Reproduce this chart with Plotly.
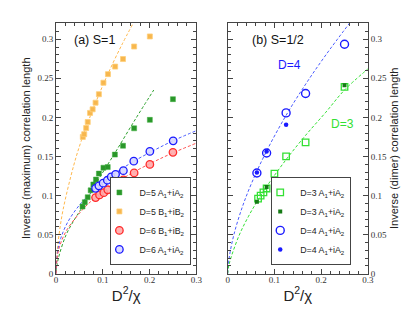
import plotly.graph_objects as go

# ---- panel (a) S=1 : symbols ----
x5a = [0.0566, 0.0614, 0.0677, 0.0740, 0.0797, 0.0853, 0.0916, 0.1013, 0.1105, 0.1258, 0.1432, 0.1670, 0.2006, 0.2500]
y5a = [0.0860, 0.0916, 0.0979, 0.1067, 0.1142, 0.1205, 0.1281, 0.1356, 0.1364, 0.1524, 0.1637, 0.1860, 0.1968, 0.2233]

x5b = [0.0572, 0.0602, 0.0644, 0.0677, 0.0727, 0.0782, 0.0845, 0.0916, 0.1013, 0.1110, 0.1264, 0.1432, 0.1670, 0.2006]
y5b = [0.1750, 0.1785, 0.1864, 0.1940, 0.2057, 0.2103, 0.2188, 0.2296, 0.2443, 0.2553, 0.2649, 0.2746, 0.2906, 0.3035]

x6b = [0.0845, 0.0929, 0.1021, 0.1105, 0.1264, 0.1440, 0.1670, 0.2006, 0.2500]
y6b = [0.0974, 0.1008, 0.1037, 0.1074, 0.1130, 0.1200, 0.1290, 0.1398, 0.1553]

x6a = [0.0845, 0.0916, 0.1006, 0.1096, 0.1180, 0.1273, 0.1440, 0.1662, 0.2006, 0.2505]
y6a = [0.1092, 0.1125, 0.1159, 0.1196, 0.1238, 0.1272, 0.1318, 0.1440, 0.1565, 0.1700]

# ---- panel (a) fitted dashed curves ----
fit5b_x = [0.0, 0.002, 0.0063, 0.015, 0.0377, 0.0539, 0.08, 0.1097, 0.14, 0.1656]
fit5b_y = [0.0, 0.026, 0.050, 0.082, 0.1385, 0.170, 0.212, 0.254, 0.292, 0.321]
fit5a_x = [0.0, 0.005, 0.0216, 0.04, 0.058, 0.09, 0.1264, 0.17, 0.209]
fit5a_y = [0.003, 0.020, 0.050, 0.070, 0.087, 0.120, 0.155, 0.198, 0.235]
fit6a_x = [0.0, 0.003, 0.01, 0.025, 0.0497, 0.0845, 0.125, 0.1662, 0.21, 0.25, 0.3]
fit6a_y = [0.0, 0.0277, 0.0454, 0.0661, 0.0876, 0.109, 0.1279, 0.1438, 0.158, 0.170, 0.183]
fit6b_x = [0.0, 0.003, 0.01, 0.025, 0.0635, 0.0845, 0.125, 0.1662, 0.21, 0.25, 0.3]
fit6b_y = [0.0, 0.0235, 0.0393, 0.058, 0.0863, 0.0974, 0.1151, 0.130, 0.1435, 0.1546, 0.167]

# ---- panel (b) S=1/2 : symbols ----
x3o = [0.0650, 0.0705, 0.0765, 0.0833, 0.1000, 0.1250, 0.1667, 0.2500]
y3o = [0.0960, 0.1000, 0.1040, 0.1090, 0.1280, 0.1500, 0.1680, 0.2390]
x3f = [0.0625, 0.0833, 0.2500]
y3f = [0.0920, 0.1110, 0.2410]
x4o = [0.0625, 0.0833, 0.1250, 0.1667, 0.2500]
y4o = [0.1289, 0.1545, 0.2057, 0.2305, 0.2935]
x4f = [0.0625, 0.0833, 0.1250]
y4f = [0.1295, 0.1565, 0.1905]

fit4_x = [0.0, 0.003, 0.0133, 0.031, 0.052, 0.0833, 0.125, 0.167, 0.21, 0.2614]
fit4_y = [0.0, 0.0197, 0.050, 0.0848, 0.117, 0.157, 0.2026, 0.2426, 0.2798, 0.321]
fit3_x = [0.0, 0.003, 0.0237, 0.0447, 0.0625, 0.0833, 0.125, 0.1667, 0.21, 0.25, 0.3]
fit3_y = [0.0, 0.012, 0.048, 0.0736, 0.092, 0.1115, 0.146, 0.177, 0.2066, 0.235, 0.262]

xticks = [0, 0.1, 0.2, 0.3]
xticktext = ["0", "0.1", "0.2", "0.3"]
yticks = [0, 0.05, 0.1, 0.15, 0.2, 0.25, 0.3]
yticktext = ["0", "0.05", "0.1", "0.15", "0.2", "0.25", "0.3"]

GREEN_D = "#2a962a"
ORANGE = "#f7b74e"
RED = "#ff2a2a"
BLUE = "#1a1aff"
LGREEN = "#33e033"

fig = go.Figure()

def dashed(x, y, color, xa, ya):
    fig.add_trace(go.Scatter(x=x, y=y, mode="lines", xaxis=xa, yaxis=ya,
                             line=dict(color=color, width=1, dash="3px,2px", shape="spline"),
                             showlegend=False, hoverinfo="skip"))

dashed(fit5b_x, fit5b_y, "#ffb84d", "x", "y")
dashed(fit5a_x, fit5a_y, "#2ca02c", "x", "y")
dashed(fit6a_x, fit6a_y, "#4a5cff", "x", "y")
dashed(fit6b_x, fit6b_y, "#ff5050", "x", "y")
dashed(fit4_x, fit4_y, "#4a5cff", "x2", "y2")
dashed(fit3_x, fit3_y, "#33e033", "x2", "y2")

fig.add_trace(go.Scatter(x=x5a, y=y5a, mode="markers", name="D=5 A<sub>1</sub>+iA<sub>2</sub>",
                         marker=dict(symbol="square", size=5, color=GREEN_D, line=dict(width=0.5, color="#3cb03c")),
                         xaxis="x", yaxis="y", legend="legend"))
fig.add_trace(go.Scatter(x=x5b, y=y5b, mode="markers", name="D=5 B<sub>1</sub>+iB<sub>2</sub>",
                         marker=dict(symbol="square", size=5, color=ORANGE, line=dict(width=0.8, color="#ffcf7a")),
                         xaxis="x", yaxis="y", legend="legend"))
fig.add_trace(go.Scatter(x=x6b, y=y6b, mode="markers", name="D=6 B<sub>1</sub>+iB<sub>2</sub>",
                         marker=dict(symbol="circle", size=7.5, color="rgba(255,170,170,0.9)", line=dict(width=1.3, color=RED)),
                         xaxis="x", yaxis="y", legend="legend"))
fig.add_trace(go.Scatter(x=x6a, y=y6a, mode="markers", name="D=6 A<sub>1</sub>+iA<sub>2</sub>",
                         marker=dict(symbol="circle", size=7.5, color="rgba(215,215,255,0.9)", line=dict(width=1.3, color=BLUE)),
                         xaxis="x", yaxis="y", legend="legend"))

fig.add_trace(go.Scatter(x=x3o, y=y3o, mode="markers", name="D=3 A<sub>1</sub>+iA<sub>2</sub>",
                         marker=dict(symbol="square-open", size=6.5, color=LGREEN, line=dict(width=1.3)),
                         xaxis="x2", yaxis="y2", legend="legend2"))
fig.add_trace(go.Scatter(x=x3f, y=y3f, mode="markers", name="D=3 A<sub>1</sub>+iA<sub>2</sub>",
                         marker=dict(symbol="square", size=4, color="#157a15"),
                         xaxis="x2", yaxis="y2", legend="legend2"))
fig.add_trace(go.Scatter(x=x4o, y=y4o, mode="markers", name="D=4 A<sub>1</sub>+iA<sub>2</sub>",
                         marker=dict(symbol="circle-open", size=8, color=BLUE, line=dict(width=1.4)),
                         xaxis="x2", yaxis="y2", legend="legend2"))
fig.add_trace(go.Scatter(x=x4f, y=y4f, mode="markers", name="D=4 A<sub>1</sub>+iA<sub>2</sub>",
                         marker=dict(symbol="circle", size=4.5, color=BLUE),
                         xaxis="x2", yaxis="y2", legend="legend2"))

tickfont = dict(family="Liberation Serif", size=9, color="#333")
axis_common = dict(showgrid=False, zeroline=False, showline=True, linecolor="#444", linewidth=1,
                   ticks="inside", ticklen=5, tickwidth=1, tickcolor="#444", mirror="allticks",
                   tickfont=tickfont)

xa = dict(axis_common, range=[0, 0.3], tickvals=xticks, ticktext=xticktext, ticklabelstandoff=-3,
          minor=dict(dtick=0.02, ticks="inside", ticklen=3, tickcolor="#444"))
ya = dict(axis_common, range=[0, 0.321], tickvals=yticks, ticktext=yticktext,
          minor=dict(dtick=0.01, ticks="inside", ticklen=3, tickcolor="#444"))

titlefont = dict(family="Liberation Sans", size=11, color="#222")
xtitle = dict(text="D<sup>2</sup>/χ", font=dict(family="Liberation Sans", size=15, color="#222"), standoff=6)
legfont = dict(family="Liberation Sans", size=8.8, color="#222")

fig.update_layout(
    width=411, height=318, margin=dict(l=0, r=0, t=0, b=0),
    plot_bgcolor="white", paper_bgcolor="white",
    xaxis=dict(xa, domain=[47/411, 190/411], anchor="y", title=xtitle),
    yaxis=dict(ya, domain=[1-270/318, 1-15/318], anchor="x",
               title=dict(text="Inverse (maximum) correlation length", font=titlefont, standoff=4)),
    xaxis2=dict(xa, domain=[222/411, 365/411], anchor="y2", title=xtitle),
    yaxis2=dict(ya, domain=[1-270/318, 1-15/318], anchor="x2", side="right",
                title=dict(text="Inverse (dimer) correlation length", font=titlefont, standoff=4)),
    legend=dict(x=185/411, y=1-261/318, xanchor="right", yanchor="bottom",
                bgcolor="white", bordercolor="#444", borderwidth=1, font=legfont,
                itemwidth=30, indentation=-12, tracegroupgap=0),
    legend2=dict(x=348/411, y=1-261/318, xanchor="right", yanchor="bottom",
                 bgcolor="white", bordercolor="#444", borderwidth=1, font=legfont,
                 itemwidth=30, indentation=-12, tracegroupgap=0),
    annotations=[
        dict(text="(a) S=1", x=0.034, y=0.2985, xref="x", yref="y", xanchor="left", yanchor="middle",
             showarrow=False, font=dict(family="Liberation Sans", size=12.5, color="#111")),
        dict(text="(b) S=1/2", x=0.047, y=0.2985, xref="x2", yref="y2", xanchor="left", yanchor="middle",
             showarrow=False, font=dict(family="Liberation Sans", size=12.5, color="#111")),
        dict(text="D=4", x=0.132, y=0.2666, xref="x2", yref="y2", showarrow=False,
             font=dict(family="Liberation Sans", size=12, color=BLUE)),
        dict(text="D=3", x=0.246, y=0.192, xref="x2", yref="y2", showarrow=False,
             font=dict(family="Liberation Sans", size=12, color=LGREEN)),
    ],
)

fig.write_html("out.html")
